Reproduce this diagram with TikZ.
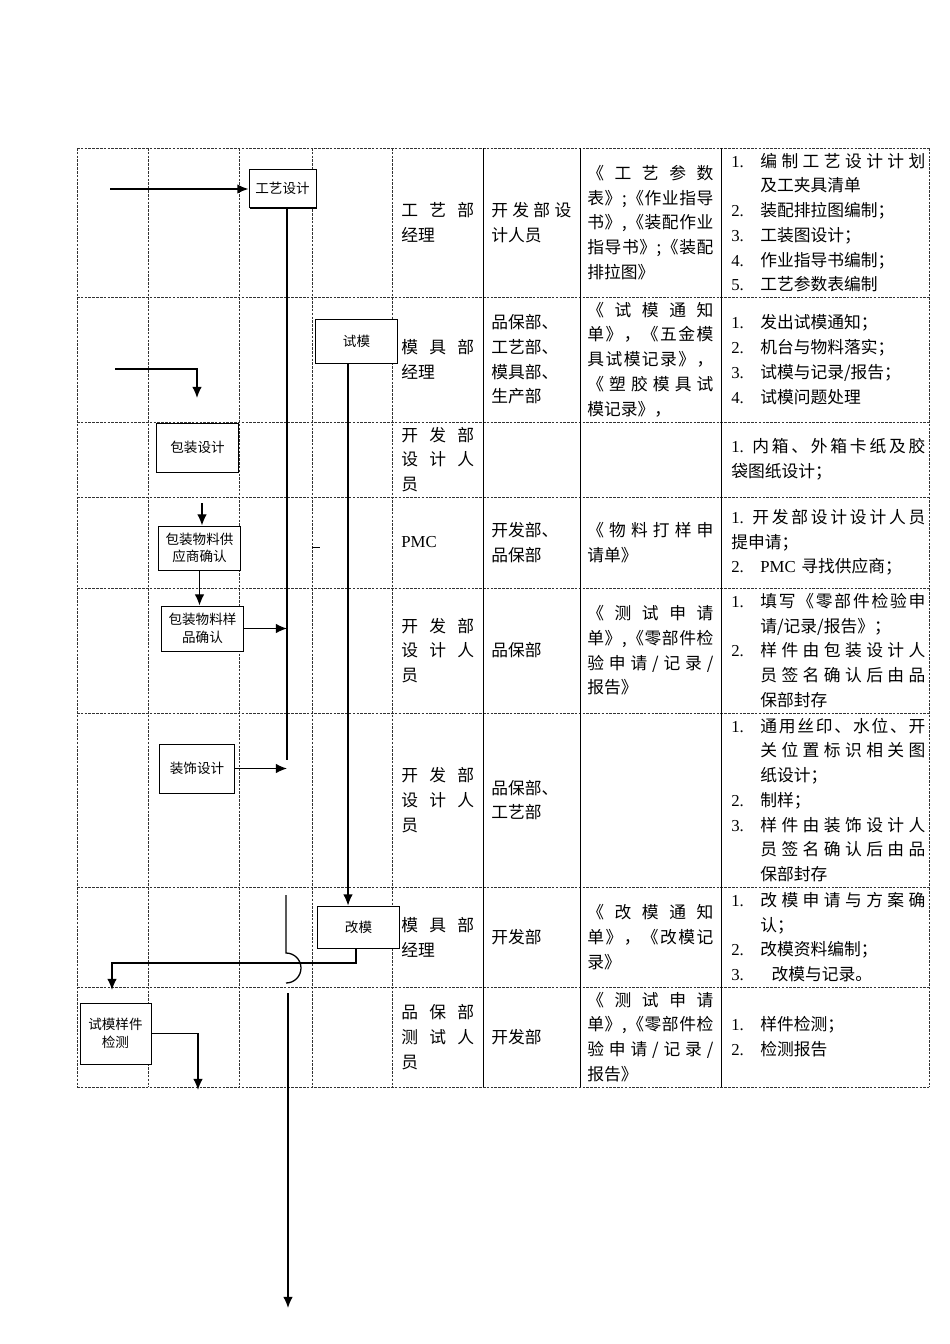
\documentclass[tikz,border=0pt]{standalone}
\usepackage{fontspec}
\setmainfont{Liberation Serif}
\newfontfamily\cjk{Noto Sans CJK SC}
\newfontfamily\lat{Liberation Serif}
\usepackage{tikz}
\usetikzlibrary{arrows,arrows.meta,calc,positioning,shadows}

\newlength\ind
\setlength\ind{18.2pt}
\makeatletter
\def\jl@loop#1#2\@nil{#1\ifx\relax#2\relax\else\hfill\jl@loop#2\@nil\fi}
\newcommand\jl[2][\linewidth]{\leavevmode\hbox to #1{\jl@loop#2\@nil}}
\makeatother
\newcommand\jli[1]{\jl[\dimexpr\linewidth-\ind\relax]{#1}}
\newcommand\nm[1]{{\lat #1}}
\newcommand\numbox[1]{\makebox[\ind][l]{\lat #1}}
\newcommand\indline[1]{\hspace*{\ind}#1}
\newcommand\cellfont{\cjk\fontsize{10.5}{15.5}\selectfont}
\newcommand\boxfont{\cjk\fontsize{8.5}{11}\selectfont}

\tikzset{
        lanegrid/.style = {dash pattern=on 1.6pt off 0.8pt, line width=0.4pt, black!80},
        vline/.style = {line width=0.5pt, black},
        procbox/.style = {draw, rectangle, fill=white, line width=0.6pt,
            align=center, font=\boxfont, inner sep=1pt,
            drop shadow={shadow xshift=0.7pt, shadow yshift=-0.7pt,
                fill=black, opacity=1}},
        conn/.style = {draw, line width=0.8pt},
        arrow/.style = {draw, -{Latex[length=7pt,width=6pt]}, line width=0.8pt},
        celltext/.style = {anchor=west, inner sep=0pt, align=left, font=\cellfont},
        c5/.style = {celltext, text width=45.7pt},
        c6/.style = {celltext, text width=50.1pt},
        c7/.style = {celltext, text width=79pt},
        c8/.style = {celltext, text width=121.6pt},
    }

\begin{document}
\begin{tikzpicture}[x=0.6266pt, y=-0.6266pt]
\useasboundingbox (0,0) rectangle (950,1344);

% table
\foreach \y in {148,297,422,497,588,713,887,987,1087}
    \draw[lanegrid] (77,\y) -- (929,\y);
\foreach \x in {77,148,239,312,392,929}
    \draw[lanegrid] (\x,148) -- (\x,1087);
\foreach \x in {483,580,721}
    \draw[vline] (\x,148) -- (\x,1087);

% flow boxes
\node[procbox, minimum width=42pt, minimum height=24.4pt] (gysj) at (282.5,188.5) {工艺设计};
\node[procbox, minimum width=50.8pt, minimum height=27.6pt] (sm) at (356.5,341) {试模};
\node[procbox, minimum width=50.8pt, minimum height=30.7pt] (bzsj) at (197.5,447.5) {包装设计};
\node[procbox, minimum width=50.8pt, minimum height=27.6pt] (gysqr) at (199.5,548) {包装物料供\\应商确认};
\node[procbox, minimum width=50.8pt, minimum height=28.2pt] (ypqr) at (202.5,628.5) {包装物料样\\品确认};
\node[procbox, minimum width=46.4pt, minimum height=30.7pt] (zssj) at (197,768.5) {装饰设计};
\node[procbox, minimum width=50.8pt, minimum height=26.3pt] (gm) at (358.5,927) {改模};
\node[procbox, minimum width=44.5pt, minimum height=38.2pt] (symj) at (115.5,1033.5) {试模样件\\检测};

% row 1
\node[c5] (r1a) at (401,222.5) {\jl{工艺部}\\经理};
\node[c6] (r1b) at (491,222.5) {\jl{开发部设}\\计人员};
\node[c7] (r1c) at (587,222.5) {\jl{《工艺参数}\\\jl{表》;《作业指导}\\\jl{书》,《装配作业}\\\jl{指导书》;《装配}\\排拉图》};
\node[c8] (r1d) at (731,222.5) {\numbox{1.}\jli{编制工艺设计计划}\\\indline{及工夹具清单}\\\numbox{2.}装配排拉图编制；\\\numbox{3.}工装图设计；\\\numbox{4.}作业指导书编制；\\\numbox{5.}工艺参数表编制};
% row 2
\node[c5] (r2a) at (401,359.5) {\jl{模具部}\\经理};
\node[c6] (r2b) at (491,359.5) {品保部、\\工艺部、\\模具部、\\生产部};
\node[c7] (r2c) at (587,359.5) {\jl{《试模通知}\\\jl{单》，《五金模}\\\jl{具试模记录》，}\\\jl{《塑胶模具试}\\模记录》，};
\node[c8] (r2d) at (731,359.5) {\numbox{1.}发出试模通知；\\\numbox{2.}机台与物料落实；\\\numbox{3.}试模与记录/报告；\\\numbox{4.}试模问题处理};
% row 3
\node[c5] (r3a) at (401,459.5) {\jl{开发部}\\\jl{设计人}\\员};
\node[c8] (r3d) at (731,459.5) {\jl{{\nm{1.}\ }内箱、外箱卡纸及胶}\\袋图纸设计；};
% row 4
\node[c5] (r4a) at (401,542.5) {\nm{PMC}};
\node[c6] (r4b) at (491,542.5) {开发部、\\品保部};
\node[c7] (r4c) at (587,542.5) {\jl{《物料打样申}\\请单》};
\node[c8] (r4d) at (731,542.5) {\jl{{\nm{1.}\ }开发部设计设计人员}\\提申请；\\\numbox{2.}\nm{PMC} 寻找供应商；};
% row 5
\node[c5] (r5a) at (401,650.5) {\jl{开发部}\\\jl{设计人}\\员};
\node[c6] (r5b) at (491,650.5) {品保部};
\node[c7] (r5c) at (587,650.5) {\jl{《测试申请}\\\jl{单》,《零部件检}\\\jl{验申请/记录/}\\报告》};
\node[c8] (r5d) at (731,650.5) {\numbox{1.}\jli{填写《零部件检验申}\\\indline{请/记录/报告》；}\\\numbox{2.}\jli{样件由包装设计人}\\\indline{\jli{员签名确认后由品}}\\\indline{保部封存}};
% row 6
\node[c5] (r6a) at (401,800) {\jl{开发部}\\\jl{设计人}\\员};
\node[c6] (r6b) at (491,800) {品保部、\\工艺部};
\node[c8] (r6d) at (731,800) {\numbox{1.}\jli{通用丝印、水位、开}\\\indline{\jli{关位置标识相关图}}\\\indline{纸设计；}\\\numbox{2.}制样；\\\numbox{3.}\jli{样件由装饰设计人}\\\indline{\jli{员签名确认后由品}}\\\indline{保部封存}};
% row 7
\node[c5] (r7a) at (401,937) {\jl{模具部}\\经理};
\node[c6] (r7b) at (491,937) {开发部};
\node[c7] (r7c) at (587,937) {\jl{《改模通知}\\\jl{单》，《改模记}\\录》};
\node[c8] (r7d) at (731,937) {\numbox{1.}\jli{改模申请与方案确}\\\indline{认；}\\\numbox{2.}改模资料编制；\\\numbox{3.}\hspace{7pt}改模与记录。};
% row 8
\node[c5] (r8a) at (401,1037) {\jl{品保部}\\\jl{测试人}\\员};
\node[c6] (r8b) at (491,1037) {开发部};
\node[c7] (r8c) at (587,1037) {\jl{《测试申请}\\\jl{单》,《零部件检}\\\jl{验申请/记录/}\\报告》};
\node[c8] (r8d) at (731,1037) {\numbox{1.}样件检测；\\\numbox{2.}检测报告};

% connectors
\coordinate (in1) at (110,189);
\draw[arrow, line width=1.2pt] (in1) -- (in1 -| gysj.west);
\coordinate (trunk) at (287,760);
\draw[conn] (gysj.south -| trunk) -- (trunk);
\draw[arrow] (ypqr.east) -- (ypqr.east -| trunk);
\draw[arrow] (zssj.east) -- (zssj.east -| trunk);

\coordinate (in2) at (115,369);
\coordinate (in2e) at (197,398);
\draw[arrow] (in2) -| (in2e);
\coordinate (a3) at (202,503);
\draw[arrow] (a3) -- (a3 |- gysqr.north);
\draw[arrow] (gysqr.south) -- (gysqr.south |- ypqr.north);
\draw[conn, line width=0.5pt] (312,547) -- (320,547);

\coordinate (t2) at (348,0);
\draw[arrow] (sm.south -| t2) -- (gm.north -| t2);
\coordinate (c1) at (356,963);
\coordinate (c2) at (112,990);
\draw[arrow] (gm.south -| c1) -- (c1) -| (c2);

\coordinate (j0) at (286,895);
\coordinate (j1) at (286,953);
\coordinate (j2) at (288,993);
\coordinate (out) at (288,1308);
\draw[conn] (j0) -- (j1) arc[start angle=90, end angle=-90, radius=9.4pt];
\draw[arrow] (j2) -- (out);

\coordinate (c3) at (198,1090);
\draw[arrow] (symj.east) -| (c3);
\end{tikzpicture}
\end{document}
